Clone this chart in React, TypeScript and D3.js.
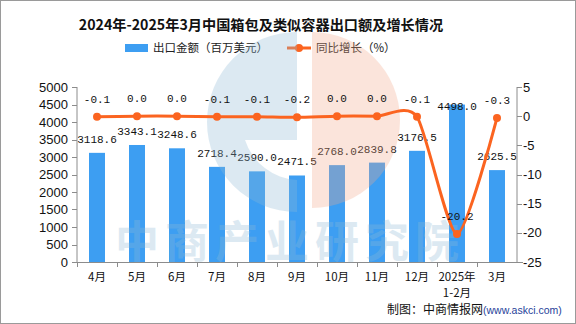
import React from "react";
import * as d3 from "d3";

const categories = ["4月", "5月", "6月", "7月", "8月", "9月", "10月", "11月", "12月", "2025年\n1-2月", "3月"];
const exportValues = [3118.6, 3343.1, 3248.6, 2718.4, 2590.0, 2471.5, 2768.0, 2839.8, 3176.5, 4498.0, 2625.5];
const growthValues = [-0.1, 0.0, 0.0, -0.1, -0.1, -0.2, 0.0, 0.0, -0.1, -20.2, -0.3];
const leftTicks = [0, 500, 1000, 1500, 2000, 2500, 3000, 3500, 4000, 4500, 5000];
const rightTicks = [5, 0, -5, -10, -15, -20, -25];

const W = 576;
const H = 324;
const M = { left: 77, right: 517, top: 87, bottom: 262 };
const BAR = "#3d9ef2";
const LINE = "#fb6420";
const AXIS = "#8c8c8c";
const NUMFONT = "'Liberation Mono', 'DejaVu Sans Mono', monospace";
const CJK = "'Noto Sans CJK SC', sans-serif";

export default function App() {
  const x = d3.scaleBand<string>().domain(categories).range([M.left, M.right]).padding(0);
  const yL = d3.scaleLinear().domain([0, 5000]).range([M.bottom, M.top]);
  const yR = d3.scaleLinear().domain([-25, 5]).range([M.bottom, M.top]);
  const bw = 16;
  const cx = (i: number) => (x(categories[i]) as number) + x.bandwidth() / 2;

  const pts: [number, number][] = growthValues.map((v, i) => [cx(i), yR(v)]);
  const linePath = d3.line().curve(d3.curveCardinal.tension(0.3))(pts) as string;
  const topLineY = d3.max(growthValues.filter((v) => v > -5).map((v) => yR(v))) as number;

  return (
    <div style={{ position: "fixed", left: 0, top: 0, width: W, height: H, background: "#fff" }}>
      <svg width={W} height={H} style={{ display: "block" }}>
        <rect x={0.5} y={0.5} width={W - 1} height={H - 1} fill="#fff" stroke="#9a9a9a" />
        {/* title */}
        <text x={261} y={30} textAnchor="middle" fontFamily={CJK} fontWeight="bold" fontSize={14.2} fill="#111">
          2024年-2025年3月中国箱包及类似容器出口额及增长情况
        </text>
        {/* legend */}
        <rect x={125} y={44} width={23} height={8} fill={BAR} />
        <text x={153} y={52} fontFamily={CJK} fontSize={11.5} fill="#222">出口金额（百万美元）</text>
        <line x1={287} x2={311} y1={48} y2={48} stroke={LINE} strokeWidth={3} />
        <circle cx={299} cy={48} r={4} fill={LINE} />
        <text x={316} y={52} fontFamily={CJK} fontSize={11.5} fill="#222">同比增长（%）</text>

        {/* bars */}
        {exportValues.map((v, i) => (
          <rect key={"b" + i} x={cx(i) - bw / 2} y={yL(v)} width={bw} height={M.bottom - yL(v)} fill={BAR} />
        ))}
        {/* bar labels */}
        {exportValues.map((v, i) => (
          <text key={"bl" + i} x={cx(i)} y={Math.max(yL(v) - 10, topLineY - 8)} textAnchor="middle" fontFamily={NUMFONT} fontSize={11} fill="#111">
            {v.toFixed(1)}
          </text>
        ))}

        {/* axes */}
        <line x1={M.left} x2={M.left} y1={M.top} y2={M.bottom} stroke={AXIS} />
        <line x1={M.right} x2={M.right} y1={M.top} y2={M.bottom} stroke={AXIS} />
        <line x1={M.left} x2={M.right + 6} y1={M.bottom + 0.5} y2={M.bottom + 0.5} stroke={AXIS} />
        {leftTicks.map((t) => (
          <g key={"lt" + t}>
            <line x1={M.left - 5} x2={M.left} y1={Math.round(yL(t)) + 0.5} y2={Math.round(yL(t)) + 0.5} stroke={AXIS} />
            <text x={68} y={yL(t) + 4.5} textAnchor="end" fontFamily="'Liberation Sans', Arial, sans-serif" fontSize={13} fill="#111">{t}</text>
          </g>
        ))}
        {rightTicks.map((t) => (
          <g key={"rt" + t}>
            <line x1={M.right} x2={M.right + 5} y1={Math.round(yR(t)) + 0.5} y2={Math.round(yR(t)) + 0.5} stroke={AXIS} />
            <text x={523} y={yR(t) + 4.5} textAnchor="start" fontFamily="'Liberation Sans', Arial, sans-serif" fontSize={13} fill="#111">{t}</text>
          </g>
        ))}
        {categories.map((c, i) => (
          <line key={"xt" + i} x1={Math.round(x(c) as number) + 0.5} x2={Math.round(x(c) as number) + 0.5} y1={M.bottom} y2={M.bottom + 5} stroke={AXIS} />
        ))}

        {/* watermark */}
        <g opacity={0.3} pointerEvents="none">
          <path d="M297,32 A90,90 0 0,0 297,212 L297,180 A58,58 0 0,1 245,140 L297,140 Z" fill="#8fbad6" />
          <path d="M297,32 L297,100 A75,30 0 0,0 220,115 A85,85 0 0,1 297,32 Z" fill="#8fbad6" />
          <path d="M312,32 A88,88 0 0,1 312,208 Z" fill="#f4a98a" />
          <text x={290} y={258} textAnchor="middle" fontFamily={CJK} fontWeight="bold" fontSize={44} fill="#8fbad6" letterSpacing={6}>中商产业研究院</text>
        </g>

        {categories.map((c, i) => (
          <text key={"xl" + i} x={cx(i)} y={281} textAnchor="middle" fontFamily={CJK} fontSize={11.5} fill="#111">
            {c.split("\n").map((s, j) => (
              <tspan key={j} x={cx(i)} dy={j === 0 ? 0 : 16}>{s}</tspan>
            ))}
          </text>
        ))}

        {/* line */}
        <path d={linePath} fill="none" stroke={LINE} strokeWidth={3} />
        {pts.map((p, i) => (
          <circle key={"p" + i} cx={p[0]} cy={p[1]} r={4} fill={LINE} />
        ))}
        {growthValues.map((v, i) => (
          <text key={"gl" + i} x={cx(i)} y={yR(v) - 14} textAnchor="middle" fontFamily={NUMFONT} fontSize={11} fill="#111">
            {v.toFixed(1)}
          </text>
        ))}

        {/* source */}
        <text x={483} y={314} textAnchor="end" fontFamily={CJK} fontSize={12} fill="#111">制图：中商情报网</text>
        <text x={483} y={314} textAnchor="start" fontFamily="'Liberation Sans', Arial, sans-serif" fontSize={10.5} fill="#1f3f9a">(www.askci.com)</text>
      </svg>
    </div>
  );
}
